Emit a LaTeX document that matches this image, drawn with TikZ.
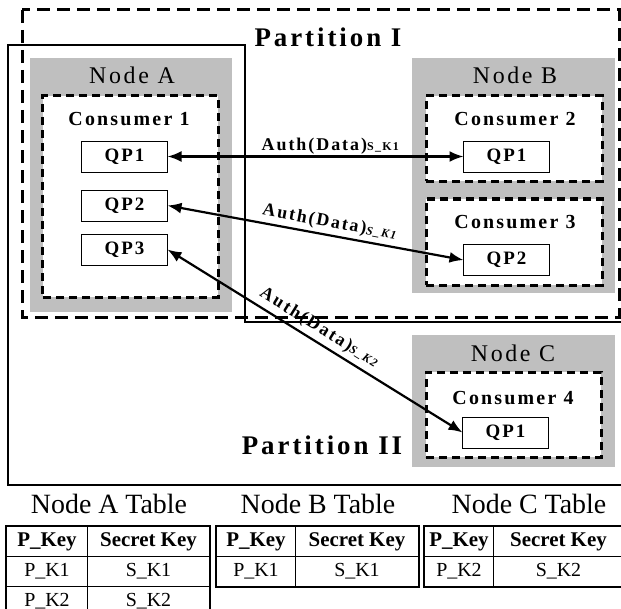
\documentclass[tikz,border=0pt]{standalone}
\usepackage{fontspec}
\setmainfont{Liberation Serif}
\newfontfamily\wideserif[LetterSpace=11]{Liberation Serif}
\usetikzlibrary{arrows.meta,positioning}

% message label, the key as a small index
\newcommand{\authmsg}[2]{Auth(Data){\fontsize{12}{12}\selectfont#1S\_#2}}

\begin{document}
\begin{tikzpicture}[
	x=1bp, y=-1bp,
	every node/.style={inner sep=0, outer sep=0},
	host/.style={rectangle, fill=black!25},
	hostname/.style={font=\wideserif\fontsize{24}{24}\selectfont},
	consumer/.style={rectangle, draw, fill=white, line width=3bp, dash pattern=on 8bp off 5bp},
	consname/.style={font=\wideserif\bfseries\fontsize{20}{20}\selectfont},
	qp/.style={rectangle, draw, fill=white, line width=0.9bp, minimum width=86bp, minimum height=31bp, font=\wideserif\bfseries\fontsize{19}{19}\selectfont},
	partname/.style={font=\wideserif\bfseries\fontsize{27}{27}\selectfont},
	msg/.style={{Latex[length=14bp,width=11bp]}-{Latex[length=14bp,width=11bp]}, line width=2.2bp},
	msglabel/.style={font=\wideserif\bfseries\fontsize{18}{18}\selectfont},
	keytable/.style={draw=black, line width=2.4bp, inner sep=0, column sep=-0.9bp, row sep=-0.9bp, anchor=north west,
		nodes={rectangle, draw, line width=0.9bp, minimum height=30bp, font=\fontsize{20}{20}\selectfont}},
	keyhead/.style={minimum height=30bp, font=\bfseries\fontsize{21}{21}\selectfont},
	tabtitle/.style={font=\fontsize{28}{28}\selectfont}
	]

\useasboundingbox (0,0) rectangle (621,609);

% Partitions
\draw [line width=3bp, dash pattern=on 13bp off 7bp] (22,10) rectangle (619,317);
\draw [line width=2.4bp] (621,322) -- (245,322) -- (245,45) -- (8,45) -- (8,485) -- (621,485);
\node [partname] (part1) at (328,37) {Partition I};
\node [partname] (part2) at (322,445) {Partition II};

% Node A
\node [host, minimum width=202bp, minimum height=254bp] (hostA) at (131,185) {};
\node [hostname] (nameA) at (132,75) {Node A};
\node [consumer, minimum width=175bp, minimum height=201bp] (cons1) at (130.5,196.5) {};
\node [consname] (cname1) at (129,119.5) {Consumer 1};
\node [qp] (qpA1) at (124.5,156.5) {QP1};
\node [qp, below=18bp of qpA1] (qpA2) {QP2};
\node [qp, below=13bp of qpA2] (qpA3) {QP3};

% Node B
\node [host, minimum width=203bp, minimum height=235bp] (hostB) at (513.5,175.5) {};
\node [hostname] (nameB) at (515,75) {Node B};
\node [consumer, minimum width=176bp, minimum height=85bp] (cons2) at (514,138.5) {};
\node [consname] (cname2) at (515,119.5) {Consumer 2};
\node [qp] (qpB1) at (506.5,156.5) {QP1};
\node [consumer, minimum width=176bp, minimum height=86bp] (cons3) at (514,242) {};
\node [consname] (cname3) at (515,222) {Consumer 3};
\node [qp] (qpB2) at (506.5,260) {QP2};

% Node C
\node [host, minimum width=203bp, minimum height=132bp] (hostC) at (513.5,401) {};
\node [hostname] (nameC) at (513,353) {Node C};
\node [consumer, minimum width=175bp, minimum height=85bp] (cons4) at (513.5,414.5) {};
\node [consname] (cname4) at (513,398) {Consumer 4};
\node [qp] (qpC1) at (505.5,432.5) {QP1};

% Messages between queue pairs
\draw [msg] (qpA1.east) -- node [msglabel, above=2bp, pos=0.55] (msg1) {\authmsg{}{K1}} (qpB1.west);
\draw [msg] (qpA2.east) -- node [msglabel, sloped, above=4bp, pos=0.54] (msg2) {\authmsg{\itshape}{K1}} (qpB2.west);
\draw [msg] (qpA3.east) -- node [msglabel, sloped, above=5bp, pos=0.49] (msg3) {\authmsg{\itshape}{K2}} (qpC1.west);

% Key tables
\node [tabtitle] (titleA) at (109,504) {Node A Table};
\matrix [keytable, column 1/.style={nodes={minimum width=81bp}}, column 2/.style={nodes={minimum width=122bp}}] (tabA) at (6,526) {
	\node [keyhead] {P\_Key}; & \node [keyhead] {Secret Key}; \\
	\node {P\_K1}; & \node {S\_K1}; \\
	\node {P\_K2}; & \node {S\_K2}; \\
};

\node [tabtitle] (titleB) at (318,504) {Node B Table};
\matrix [keytable, column 1/.style={nodes={minimum width=79bp}}, column 2/.style={nodes={minimum width=123bp}}] (tabB) at (216,526) {
	\node [keyhead] {P\_Key}; & \node [keyhead] {Secret Key}; \\
	\node {P\_K1}; & \node {S\_K1}; \\
};

\node [tabtitle] (titleC) at (529,504) {Node C Table};
\matrix [keytable, column 1/.style={nodes={minimum width=69bp}}, column 2/.style={nodes={minimum width=130bp}}] (tabC) at (424,526) {
	\node [keyhead] {P\_Key}; & \node [keyhead] {Secret Key}; \\
	\node {P\_K2}; & \node {S\_K2}; \\
};

\end{tikzpicture}
\end{document}
